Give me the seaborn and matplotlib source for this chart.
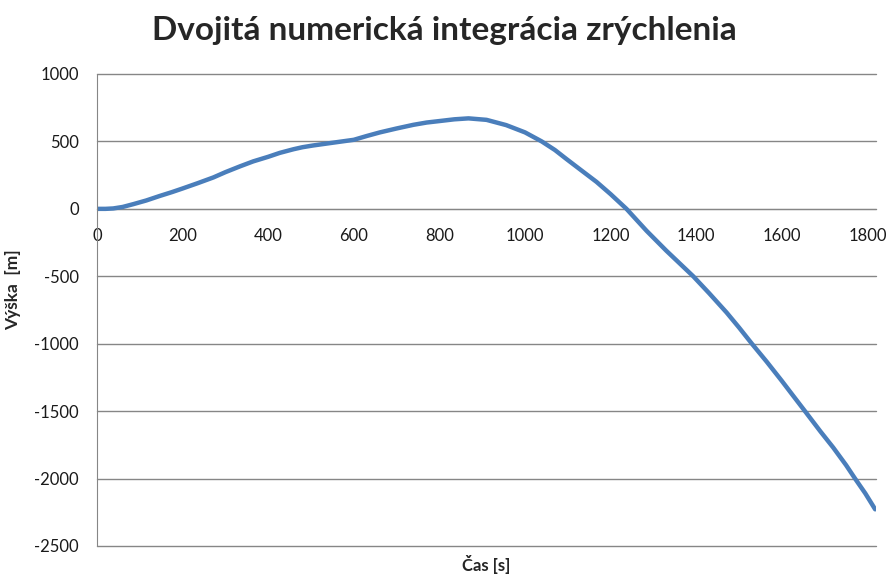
import seaborn as sns
import numpy as np
import pandas as pd
import matplotlib.pyplot as plt

# values
cas = [0, 20, 38, 60, 85, 115, 147, 175, 200, 235, 272, 300, 334, 365, 400, 427, 459,
       480, 505, 550, 600, 630, 661, 700, 739, 770, 800, 835, 868, 910, 956, 1000,
       1039, 1070, 1097, 1128, 1167, 1200, 1237, 1284, 1330, 1393, 1430,
       1471, 1500, 1530, 1565, 1600, 1625, 1654, 1690, 1720, 1750, 1771, 1795, 1818]
vyska = [0, 0, 3, 14, 35, 62, 96, 124, 151, 190, 233, 272, 315, 352, 386, 415, 442,
         457, 470, 490, 512, 540, 567, 596, 623, 640, 651, 664, 671, 660, 621, 567,
         500, 436, 369, 294, 200, 109, 0, -163, -310, -500, -625,
         -769, -880, -1000, -1135, -1276, -1380, -1500, -1650, -1770, -1900, -2000, -2110, -2228]

yticks = [1000, 500, 0, -500, -1000, -1500, -2000, -2500]
xticks = [0, 200, 400, 600, 800, 1000, 1200, 1400, 1600, 1800]

df = pd.DataFrame({"Čas [s]": cas, "Výška [m]": vyska})

sns.set_style("white")
plt.rcParams["font.family"] = ["Lato", "DejaVu Sans"]
plt.rcParams["axes.unicode_minus"] = False

fig = plt.figure(figsize=(8.88, 5.79), dpi=100)
ax = fig.add_axes([0.1092, 0.057, 0.8773, 0.8152])

sns.lineplot(data=df, x="Čas [s]", y="Výška [m]", ax=ax, color="#4A7EBB", linewidth=3.2,
             sort=False)

ax.set_xlim(0, 1820)
ax.set_ylim(-2500, 1000)
ax.set_yticks(yticks)
ax.set_xticks(xticks)
ax.yaxis.grid(True, color="#868686", linewidth=1)
for gl in ax.yaxis.get_gridlines():
    gl.set_clip_on(False)
ax.set_axisbelow(True)

for s in ["top", "right"]:
    ax.spines[s].set_visible(False)
ax.spines["bottom"].set_position(("data", 0))
ax.spines["bottom"].set_color("#868686")
ax.spines["left"].set_color("#868686")
ax.spines["bottom"].set_zorder(0.5)
ax.tick_params(axis="both", direction="out", length=4, width=1, color="#868686",
               labelsize=12, labelcolor="#1a1a1a")
ax.tick_params(axis="x", pad=10)
ax.tick_params(axis="y", pad=9)

ax.set_xlabel("Čas [s]", fontsize=12, fontweight="bold", va="center")
ax.xaxis.set_label_coords(0.5, -0.04)
ax.set_ylabel("Výška  [m]", fontsize=12.5, fontweight="bold")
ax.yaxis.set_label_coords(-0.098, 0.544)

fig.suptitle("Dvojitá numerická integrácia zrýchlenia", x=0.5, y=0.948,
             fontsize=24, fontweight="bold", va="center")

fig.savefig("out.png", dpi=100)
